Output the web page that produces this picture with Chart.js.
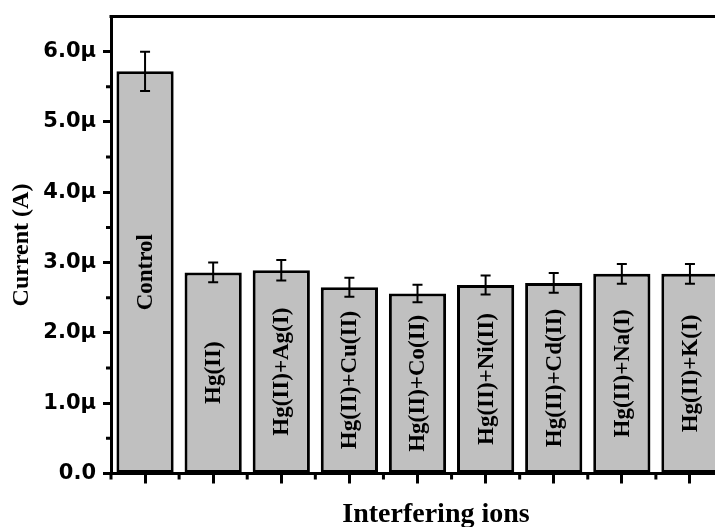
<!DOCTYPE html>
<html>
<head>
<meta charset="utf-8">
<script src="https://cdn.jsdelivr.net/npm/chart.js@4.4.1/dist/chart.umd.min.js"></script>
<style>
  html, body { margin: 0; padding: 0; background: #fff; overflow: hidden; width: 715px; height: 527px; }
  #wrap { position: absolute; left: 0; top: 0; width: 724px; height: 527px; }
  canvas { display: block; }
</style>
</head>
<body>
<div id="wrap"><canvas id="chart" width="724" height="527"></canvas></div>
<script>
// Interference study: peak current for Hg(II) alone and with other ions (values in µA)
const categories = ['Control', 'Hg(II)', 'Hg(II)+Ag(I)', 'Hg(II)+Cu(II)', 'Hg(II)+Co(II)',
                    'Hg(II)+Ni(II)', 'Hg(II)+Cd(II)', 'Hg(II)+Na(I)', 'Hg(II)+K(I)'];
const currents = [5.72, 2.86, 2.89, 2.65, 2.56, 2.68, 2.71, 2.84, 2.84];
const errors   = [0.28, 0.14, 0.145, 0.135, 0.125, 0.135, 0.14, 0.14, 0.14];
const yTicks   = [0, 1, 2, 3, 4, 5, 6];
const yTitle = 'Current (A)';
const xTitle = 'Interfering ions';

const tickLabel = v => (v === 0 ? '0.0' : v.toFixed(1) + 'μ');

// Error bars, in-bar labels, minor ticks, frame top and x title
const decorations = {
  id: 'decorations',
  afterDatasetsDraw(chart) {
    const ctx = chart.ctx;
    const y = chart.scales.y;
    const meta = chart.getDatasetMeta(0);
    ctx.save();
    ctx.strokeStyle = '#000';
    ctx.lineWidth = 2;
    meta.data.forEach((bar, i) => {
      const top = y.getPixelForValue(currents[i] + errors[i]);
      const bot = y.getPixelForValue(currents[i] - errors[i]);
      ctx.beginPath();
      ctx.moveTo(bar.x, top); ctx.lineTo(bar.x, bot);
      ctx.moveTo(bar.x - 5, top); ctx.lineTo(bar.x + 5, top);
      ctx.moveTo(bar.x - 5, bot); ctx.lineTo(bar.x + 5, bot);
      ctx.stroke();
    });
    ctx.fillStyle = '#000';
    ctx.font = 'bold 23px "Liberation Serif", "Times New Roman", serif';
    ctx.textAlign = 'center';
    ctx.textBaseline = 'middle';
    meta.data.forEach((bar, i) => {
      ctx.save();
      ctx.translate(bar.x, (bar.y + bar.base) / 2);
      ctx.rotate(-Math.PI / 2);
      ctx.fillText(categories[i], 0, 1);
      ctx.restore();
    });
    ctx.restore();
  },
  afterDraw(chart) {
    const ctx = chart.ctx;
    const area = chart.chartArea;
    const x = chart.scales.x, y = chart.scales.y;
    ctx.save();
    ctx.strokeStyle = '#000';
    ctx.lineWidth = 3;
    ctx.beginPath();
    // minor y ticks
    for (let v = 0.5; v < y.max; v += 1) {
      const py = y.getPixelForValue(v);
      ctx.moveTo(area.left - 5, py); ctx.lineTo(area.left, py);
    }
    // minor x ticks between categories
    const step = x.getPixelForValue(1) - x.getPixelForValue(0);
    for (let i = 0; i <= categories.length; i++) {
      const px = x.getPixelForValue(i) - step / 2;
      ctx.moveTo(px, area.bottom); ctx.lineTo(px, area.bottom + 6);
    }
    // top frame line
    ctx.moveTo(area.left - 1.5, area.top); ctx.lineTo(area.right, area.top);
    ctx.stroke();
    // x axis title
    ctx.fillStyle = '#000';
    ctx.font = 'bold 28px "Liberation Serif", "Times New Roman", serif';
    ctx.textAlign = 'center';
    ctx.textBaseline = 'alphabetic';
    ctx.fillText(xTitle, area.left + 325, area.bottom + 48);
    ctx.restore();
  }
};

new Chart(document.getElementById('chart'), {
  type: 'bar',
  data: {
    labels: categories,
    datasets: [{
      data: currents,
      backgroundColor: '#c0c0c0',
      borderColor: '#000',
      borderWidth: 3,
      borderSkipped: false,
      categoryPercentage: 0.84,
      barPercentage: 1
    }]
  },
  options: {
    responsive: false,
    animation: false,
    devicePixelRatio: 1,
    layout: { padding: { top: 16.5, left: 0, right: 0, bottom: 0 } },
    plugins: { legend: { display: false }, tooltip: { enabled: false } },
    scales: {
      x: {
        offset: true,
        grid: { display: true, drawOnChartArea: false, drawTicks: true, offset: false,
                tickLength: 10, tickWidth: 3, tickColor: '#000' },
        border: { display: true, color: '#000', width: 3 },
        ticks: { display: false },
        afterFit(scale) { scale.height = 53.5; scale.paddingLeft = 0; scale.paddingRight = 0; }
      },
      y: {
        min: 0,
        max: 6.5,
        afterBuildTicks(scale) { scale.ticks = yTicks.map(v => ({ value: v })); },
        ticks: {
          includeBounds: false,
          color: '#000',
          padding: 7,
          font: { family: '"DejaVu Sans", sans-serif', weight: 'bold', size: 21 },
          callback: v => tickLabel(v)
        },
        grid: { drawOnChartArea: false, tickLength: 8, tickWidth: 3, tickColor: '#000' },
        border: { display: true, color: '#000', width: 3 },
        title: {
          display: true,
          text: yTitle,
          color: '#000',
          font: { family: '"Liberation Serif", "Times New Roman", serif', weight: 'bold', size: 24 },
          padding: { top: 7, bottom: 0 }
        },
        afterFit(scale) { scale.width = 111; scale.paddingTop = 0; scale.paddingBottom = 0; }
      }
    }
  },
  plugins: [decorations]
});
</script>
</body>
</html>
